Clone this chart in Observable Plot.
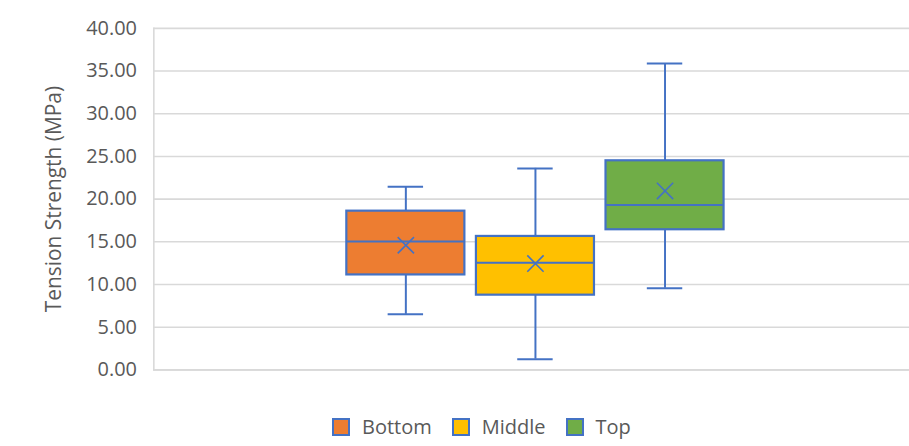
<!DOCTYPE html>
<html>
<head>
<meta charset="utf-8">
<script src="https://cdn.jsdelivr.net/npm/d3@7"></script>
<script src="https://cdn.jsdelivr.net/npm/@observablehq/plot@0.6"></script>
<style>
  html, body { margin: 0; padding: 0; background: #fff; overflow: hidden; width: 909px; height: 446px; }
  #chart { position: relative; width: 909px; height: 446px; }
  #legend { position: absolute; left: 332px; top: 413px; display: flex; align-items: center;
    font-family: "Open Sans", sans-serif; font-size: 20px; color: #595959; }
  .item { display: flex; align-items: center; margin-right: 20px; }
  .sw { width: 14px; height: 14px; border: 2px solid #4472C4; margin-right: 12px; }
  svg [aria-label="y-axis label"] text, svg g[aria-label="y-axis label"] { font-size: 21px; }
</style>
</head>
<body>
<div id="chart"></div>
<script>
const series = ["Bottom", "Middle", "Top"];
const colors = ["#ED7D31", "#FFC000", "#70AD47"];
const minV = [6.5, 1.25, 9.56];
const q1 = [11.12, 8.75, 16.41];
const median = [15.04, 12.56, 19.32];
const q3 = [18.59, 15.63, 24.49];
const maxV = [21.46, 23.6, 35.88];
const mean = [14.6, 12.45, 20.96];
const yTicks = [0, 5, 10, 15, 20, 25, 30, 35, 40];
const yTitle = "Tension Strength (MPa)";

const data = series.map((s, i) => ({
  s, min: minV[i], q1: q1[i], median: median[i], q3: q3[i], max: maxV[i], mean: mean[i]
}));
const blue = "#4472C4";

const chart = Plot.plot({
  width: 913,
  height: 400,
  marginLeft: 154,
  marginRight: 0,
  marginTop: 28,
  marginBottom: 29,
  style: { fontFamily: "Open Sans, sans-serif", fontSize: "20px", color: "#595959", background: "transparent" },
  x: { domain: series, paddingInner: 0.089, paddingOuter: 1.46, align: 0.51, round: false, axis: null },
  y: { domain: [0, 40] },
  color: { domain: series, range: colors },
  marks: [
    Plot.gridY(yTicks, { stroke: "#d9d9d9", strokeOpacity: 1, strokeWidth: 1.6 }),
    Plot.frame({ anchor: "left", stroke: "#d9d9d9", strokeWidth: 1.6 }),
    Plot.ruleY([0], { stroke: "#d9d9d9", strokeWidth: 1.6 }),
    Plot.axisY({ ticks: yTicks, tickFormat: d3.format(".2f"), tickSize: 0, tickPadding: 17,
      label: yTitle, labelAnchor: "center", labelOffset: 108, labelArrow: "none", fill: "#595959" }),
    Plot.ruleX(data, { x: "s", y1: "min", y2: "q1", stroke: blue, strokeWidth: 2 }),
    Plot.ruleX(data, { x: "s", y1: "q3", y2: "max", stroke: blue, strokeWidth: 2 }),
    Plot.tickY(data, { x: "s", y: "min", stroke: blue, strokeWidth: 2, insetLeft: 41.5, insetRight: 41.5 }),
    Plot.tickY(data, { x: "s", y: "max", stroke: blue, strokeWidth: 2, insetLeft: 41.5, insetRight: 41.5 }),
    Plot.barY(data, { x: "s", y1: "q1", y2: "q3", fill: "s", stroke: blue, strokeWidth: 2.2 }),
    Plot.tickY(data, { x: "s", y: "median", stroke: blue, strokeWidth: 2 }),
    Plot.dot(data, { x: "s", y: "mean", symbol: "times", r: 7.5, stroke: blue, strokeWidth: 1.6 })
  ]
});
document.getElementById("chart").appendChild(chart);

const legend = document.createElement("div");
legend.id = "legend";
series.forEach((s, i) => {
  const item = document.createElement("div");
  item.className = "item";
  const sw = document.createElement("div");
  sw.className = "sw";
  sw.style.background = colors[i];
  const t = document.createElement("span");
  t.textContent = s;
  item.appendChild(sw);
  item.appendChild(t);
  legend.appendChild(item);
});
document.getElementById("chart").appendChild(legend);
</script>
</body>
</html>
